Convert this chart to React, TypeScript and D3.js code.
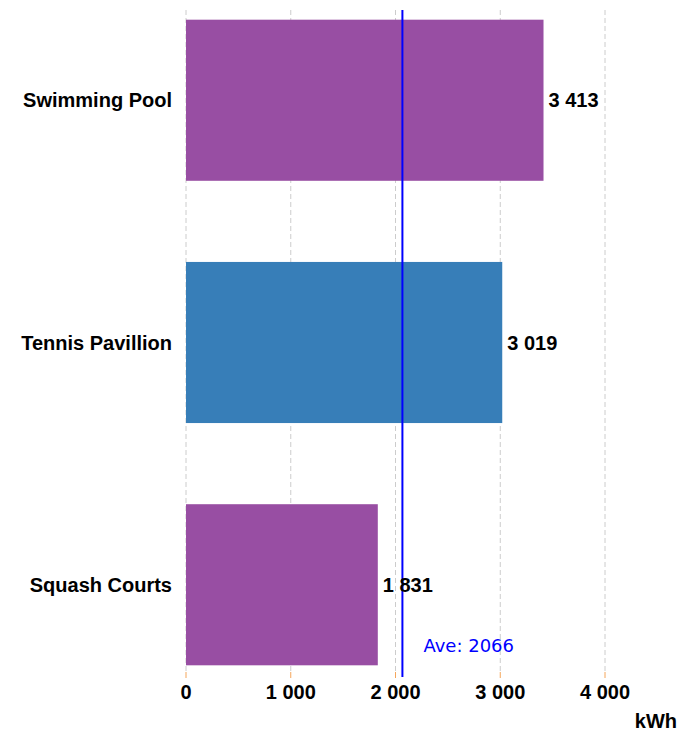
import React from 'react';
import * as d3 from 'd3';

// energy use per facility
const facilities = ['Swimming Pool', 'Tennis Pavillion', 'Squash Courts'];
const consumption = [3413, 3019, 1831];
const barColors = ['#984ea3', '#377eb8', '#984ea3'];
const xTicks = [0, 1000, 2000, 3000, 4000];
const averageValue = 2066;
const unitLabel = 'kWh';

const locale = d3.formatLocale({decimal: '.', thousands: '\u00a0', grouping: [3], currency: ['', '']});
const fmt = locale.format(',');

export default function App() {
  const width = 693;
  const height = 732;
  const margin = {top: 10, bottom: 57, left: 186};

  const x = d3.scaleLinear().domain([0, 4000]).range([margin.left, 605]);
  const y = d3.scaleBand()
    .domain(facilities)
    .range([margin.top, height - margin.bottom])
    .paddingInner(0.335)
    .paddingOuter(0.04);

  const gridBottom = 672;
  const labelFont = 'Liberation Sans, Arial, sans-serif';

  return (
    <svg width={width} height={height} style={{position: 'absolute', left: 0, top: 0}}>
      {/* grid */}
      <g>
        {xTicks.map(t => (
          <g key={t}>
            <line x1={x(t)} x2={x(t)} y1={margin.top} y2={gridBottom}
              stroke="#cccccc" strokeWidth={1} strokeDasharray="5,3" />
            <line x1={x(t)} x2={x(t)} y1={gridBottom} y2={678} stroke="#f5a65b" strokeWidth={1} />
            <text x={x(t)} y={699} textAnchor="middle" fontFamily={labelFont}
              fontWeight="bold" fontSize={20} fill="#000">{fmt(t)}</text>
          </g>
        ))}
      </g>

      {/* bars */}
      <g>
        {facilities.map((f, i) => (
          <rect key={f} x={x(0)} y={y(f)} width={x(consumption[i]) - x(0)}
            height={y.bandwidth()} fill={barColors[i]} />
        ))}
      </g>

      {/* category labels */}
      <g>
        {facilities.map(f => (
          <text key={f} x={172} y={y(f)! + y.bandwidth() / 2} dy="0.35em" textAnchor="end"
            fontFamily={labelFont} fontWeight="bold" fontSize={20} fill="#000">{f}</text>
        ))}
      </g>

      {/* average line */}
      <line x1={x(averageValue)} x2={x(averageValue)} y1={margin.top} y2={677}
        stroke="#0000ff" strokeWidth={2} />
      <text x={x(averageValue) + 21} y={652} fontFamily="DejaVu Sans, Verdana, sans-serif"
        fontSize={18} fill="#0000ff">Ave: {averageValue}</text>

      {/* value labels */}
      <g>
        {facilities.map((f, i) => (
          <text key={f} x={x(consumption[i]) + 5} y={y(f)! + y.bandwidth() / 2} dy="0.35em"
            fontFamily={labelFont} fontWeight="bold" fontSize={20} fill="#000">{fmt(consumption[i])}</text>
        ))}
      </g>

      <text x={677} y={728} textAnchor="end" fontFamily={labelFont} fontWeight="bold"
        fontSize={20} fill="#000">{unitLabel}</text>
    </svg>
  );
}
